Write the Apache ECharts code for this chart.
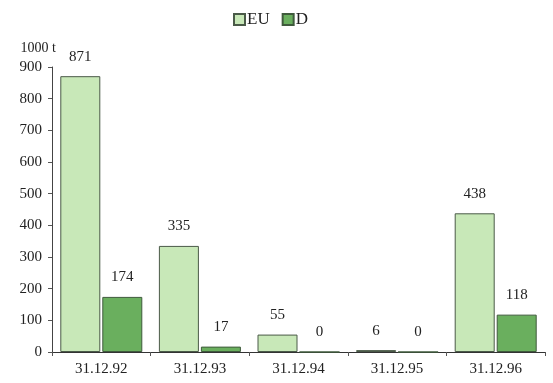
<!DOCTYPE html>
<html>
<head>
<meta charset="utf-8">
<script src="https://cdn.jsdelivr.net/npm/echarts@6/dist/echarts.min.js"></script>
<style>
  html, body { margin: 0; padding: 0; background: #fff; }
  #chart { width: 553px; height: 383px; }
</style>
</head>
<body>
<div id="chart"></div>
<script>
// Stock levels (1000 t) at year end
const categories = ['31.12.92', '31.12.93', '31.12.94', '31.12.95', '31.12.96'];
const euValues = [871, 335, 55, 6, 438];
const dValues = [174, 17, 0, 0, 118];
const yTicks = [0, 100, 200, 300, 400, 500, 600, 700, 800, 900];

const serif = '"Liberation Serif", "DejaVu Serif", serif';

const chart = echarts.init(document.getElementById('chart'), null, { renderer: 'canvas' });

const valueLabel = {
  show: true,
  position: 'top',
  distance: 12,
  fontFamily: serif,
  fontSize: 15,
  color: '#222'
};

chart.setOption({
  animation: false,
  backgroundColor: '#ffffff',
  textStyle: { fontFamily: serif },
  legend: {
    top: 6,
    left: 228,
    itemWidth: 11,
    itemHeight: 11,
    itemGap: 12,
    icon: 'rect',
    textStyle: { fontFamily: serif, fontSize: 17, color: '#222', padding: [0, 0, 0, -3] },
    data: ['EU', 'D']
  },
  grid: { left: 52, right: 8, top: 67, bottom: 31 },
  xAxis: {
    type: 'category',
    data: categories,
    axisLine: { lineStyle: { color: '#333', width: 1 } },
    axisTick: { show: true, length: 4, lineStyle: { color: '#555' } },
    axisLabel: { fontFamily: serif, fontSize: 15, color: '#222', margin: 10 }
  },
  yAxis: {
    type: 'value',
    min: yTicks[0],
    max: yTicks[yTicks.length - 1],
    interval: 100,
    name: '1000 t',
    nameLocation: 'end',
    nameGap: 12,
    nameTextStyle: { fontFamily: serif, fontSize: 14, color: '#222', align: 'right', padding: [0, -4, 0, 0] },
    axisLine: { show: true, lineStyle: { color: '#444', width: 1 } },
    axisTick: { show: true, length: 4, lineStyle: { color: '#555' } },
    splitLine: { show: false },
    axisLabel: { fontFamily: serif, fontSize: 15, color: '#222', margin: 10 }
  },
  series: [
    {
      name: 'EU',
      type: 'bar',
      data: euValues,
      barWidth: 40,
      barGap: '5%',
      itemStyle: { color: '#c8e8b8', borderColor: '#4a5a48', borderWidth: 1 },
      label: valueLabel
    },
    {
      name: 'D',
      type: 'bar',
      data: dValues,
      barWidth: 40,
      itemStyle: { color: '#6aaf5e', borderColor: '#3f5a3c', borderWidth: 1 },
      label: valueLabel
    }
  ]
});
</script>
</body>
</html>
